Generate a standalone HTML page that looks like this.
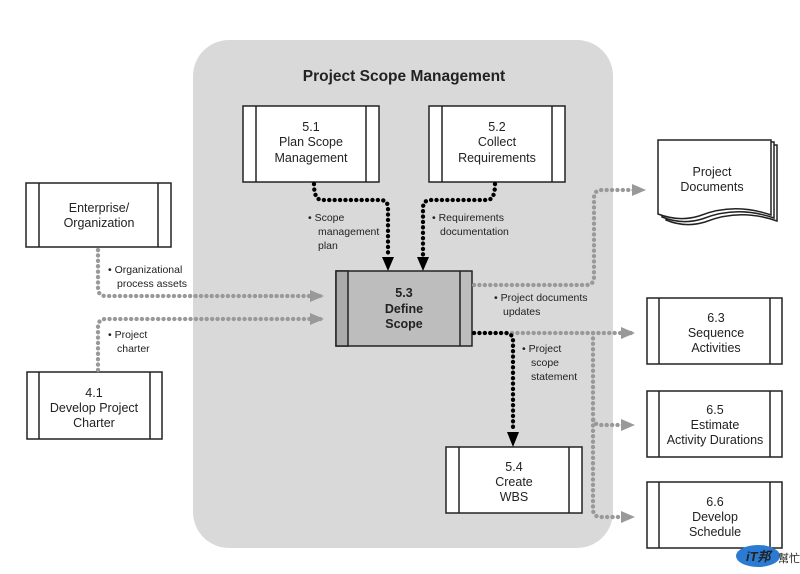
<!DOCTYPE html>
<html><head><meta charset="utf-8"><style>
html,body{margin:0;padding:0;background:#fff}
svg{display:block}
text{font-family:"Liberation Sans",sans-serif;fill:#222}
.n{font-size:12.5px}
.l{font-size:10.5px}
</style></head><body>
<svg width="800" height="574" viewBox="0 0 800 574">
<defs>
<marker id="ga" markerWidth="14" markerHeight="12" refX="12" refY="6" orient="auto" markerUnits="userSpaceOnUse"><path d="M0,0 L14,6 L0,12 Z" fill="#999"/></marker>
</defs>
<rect x="193" y="40" width="420" height="508" rx="36" fill="#d9d9d9"/>
<text x="404" y="81" text-anchor="middle" font-weight="bold" font-size="15.5">Project Scope Management</text>

<g stroke="#222" stroke-width="1.5" fill="#fff">
<rect x="243" y="106" width="136" height="76"/><line x1="256" y1="106" x2="256" y2="182"/><line x1="366" y1="106" x2="366" y2="182"/>
<rect x="429" y="106" width="136" height="76"/><line x1="442" y1="106" x2="442" y2="182"/><line x1="552" y1="106" x2="552" y2="182"/>
<rect x="26" y="183" width="145" height="64"/><line x1="39" y1="183" x2="39" y2="247"/><line x1="158" y1="183" x2="158" y2="247"/>
<rect x="27" y="372" width="135" height="67"/><line x1="39" y1="372" x2="39" y2="439"/><line x1="150" y1="372" x2="150" y2="439"/>
<rect x="336" y="271" width="136" height="75" fill="#bdbdbd"/><rect x="336" y="271" width="12" height="75" fill="#aaa"/><line x1="460" y1="271" x2="460" y2="346"/>
<rect x="446" y="447" width="136" height="66"/><line x1="459" y1="447" x2="459" y2="513"/><line x1="569" y1="447" x2="569" y2="513"/>
<rect x="647" y="298" width="135" height="66"/><line x1="659" y1="298" x2="659" y2="364"/><line x1="770" y1="298" x2="770" y2="364"/>
<rect x="647" y="391" width="135" height="66"/><line x1="659" y1="391" x2="659" y2="457"/><line x1="770" y1="391" x2="770" y2="457"/>
<rect x="647" y="482" width="135" height="66"/><line x1="659" y1="482" x2="659" y2="548"/><line x1="770" y1="482" x2="770" y2="548"/>
<path d="M666,145 H777 V221 Q740,208 705,222 Q685,228 666,220 Z"/>
<path d="M662,142 H774 V218 Q737,205 702,219 Q682,225 662,217 Z"/>
<path d="M658,140 H771 V215 Q734,202 699,216 Q679,222 658,214 Z"/>
</g>

<g fill="none" stroke-linecap="round" stroke-dasharray="0.1 5.3" stroke-width="4.3">
<path d="M98,250 V288 Q98,296 106,296 H322" stroke="#999" marker-end="url(#ga)"/>
<path d="M98,370 V327 Q98,319 106,319 H322" stroke="#999" marker-end="url(#ga)"/>
<path d="M474,285 H586 Q594,285 594,277 V198 Q594,190 602,190 H644" stroke="#999" marker-end="url(#ga)"/>
<path d="M512,333 H633" stroke="#999" marker-end="url(#ga)"/>
<path d="M593,333 V417 Q593,425 601,425 H633" stroke="#999" marker-end="url(#ga)"/>
<path d="M593,420 V509 Q593,517 601,517 H633" stroke="#999" marker-end="url(#ga)"/>
<path d="M314,184 Q314,200 322,200 H380 Q388,200 388,208 V256" stroke="#000"/>
<path d="M495,184 Q495,200 487,200 H431 Q423,200 423,208 V256" stroke="#000"/>
<path d="M474,333 H505 Q513,333 513,341 V431" stroke="#000"/>
</g>
<g fill="#000">
<path d="M382,257 L394,257 L388,271 Z"/><path d="M417,257 L429,257 L423,271 Z"/><path d="M507,432 L519,432 L513,447 Z"/>
</g>

<g class="n" text-anchor="middle">
<text x="311" y="131">5.1</text><text x="311" y="146">Plan Scope</text><text x="311" y="162">Management</text>
<text x="497" y="131">5.2</text><text x="497" y="146">Collect</text><text x="497" y="162">Requirements</text>
<text x="99" y="212">Enterprise/</text><text x="99" y="227">Organization</text>
<text x="94" y="397">4.1</text><text x="94" y="412">Develop Project</text><text x="94" y="427">Charter</text>
<g font-weight="bold"><text x="404" y="297">5.3</text><text x="404" y="313">Define</text><text x="404" y="328">Scope</text></g>
<text x="514" y="471">5.4</text><text x="514" y="486">Create</text><text x="514" y="501">WBS</text>
<text x="712" y="176">Project</text><text x="712" y="191">Documents</text>
<text x="716" y="322">6.3</text><text x="716" y="337">Sequence</text><text x="716" y="352">Activities</text>
<text x="715" y="414">6.5</text><text x="715" y="429">Estimate</text><text x="715" y="444">Activity Durations</text>
<text x="715" y="506">6.6</text><text x="715" y="521">Develop</text><text x="715" y="536">Schedule</text>
</g>
<g class="l">
<text x="308" y="221">• Scope</text><text x="318" y="235">management</text><text x="318" y="249">plan</text>
<text x="432" y="221">• Requirements</text><text x="440" y="235">documentation</text>
<text x="108" y="273">• Organizational</text><text x="117" y="287">process assets</text>
<text x="108" y="338">• Project</text><text x="117" y="352">charter</text>
<text x="494" y="301">• Project documents</text><text x="503" y="315">updates</text>
<text x="522" y="352">• Project</text><text x="531" y="366">scope</text><text x="531" y="380">statement</text>
</g>
<g>
<ellipse cx="758" cy="556" rx="22" ry="11" fill="#2a7bd1"/>
<text x="746" y="561" font-size="13" font-weight="bold" font-style="italic" fill="#fff">iT邦</text>
<text x="778" y="562" font-size="11" fill="#c2358f" style="font-family:'Liberation Sans','Noto Sans CJK TC',sans-serif">幫忙</text>
</g>
</svg>
</body></html>
